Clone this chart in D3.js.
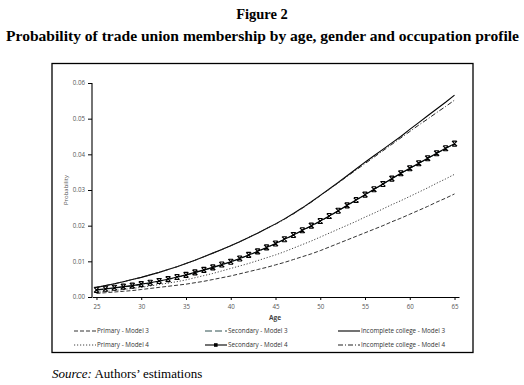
<!DOCTYPE html>
<html>
<head>
<meta charset="utf-8">
<script src="https://cdnjs.cloudflare.com/ajax/libs/d3/7.8.5/d3.min.js"></script>
<style>
  body { margin: 0; background: #fff; }
  svg { display: block; }
</style>
</head>
<body>
<div id="chart-area"></div>
<script>
// ages 25..65
var ages = d3.range(25, 66);
var yTicks = [0, 0.01, 0.02, 0.03, 0.04, 0.05, 0.06];
var xTicks = [25, 30, 35, 40, 45, 50, 55, 60, 65];

var primaryM3 = [.0010,.0012,.0014,.0016,.0018,.0021,.0024,.0027,.0030,.0033,.0036,.0040,.0044,.0049,.0054,.0059,.0065,.0071,.0077,.0083,.0090,.0097,.0105,.0113,.0121,.0130,.0140,.0150,.0160,.0170,.0180,.0190,.0200,.0211,.0221,.0232,.0243,.0254,.0266,.0277,.0289];
var secondaryM3 = [.0019,.0022,.0025,.0028,.0031,.0035,.0039,.0044,.0049,.0055,.0061,.0068,.0075,.0082,.0090,.0098,.0107,.0117,.0127,.0138,.0149,.0161,.0173,.0186,.0199,.0212,.0226,.0241,.0256,.0271,.0286,.0301,.0316,.0331,.0346,.0360,.0374,.0388,.0402,.0416,.0429];
var collegeM3 = [.0027,.0032,.0037,.0043,.0049,.0055,.0062,.0069,.0077,.0085,.0094,.0103,.0113,.0123,.0133,.0144,.0155,.0167,.0179,.0192,.0205,.0219,.0234,.0250,.0267,.0285,.0303,.0321,.0340,.0359,.0378,.0396,.0414,.0432,.0450,.0470,.0489,.0508,.0527,.0546,.0566];
var primaryM4 = [.0013,.0015,.0018,.0021,.0024,.0027,.0031,.0035,.0039,.0043,.0048,.0054,.0060,.0066,.0073,.0080,.0087,.0094,.0102,.0110,.0118,.0127,.0137,.0147,.0157,.0168,.0179,.0190,.0201,.0212,.0224,.0235,.0247,.0259,.0270,.0282,.0294,.0306,.0319,.0331,.0344];
var secondaryM4 = [.0020,.0023,.0026,.0029,.0032,.0036,.0040,.0045,.0050,.0056,.0062,.0069,.0076,.0083,.0091,.0099,.0108,.0118,.0128,.0139,.0150,.0162,.0174,.0187,.0200,.0213,.0227,.0242,.0257,.0272,.0287,.0302,.0317,.0332,.0347,.0361,.0375,.0389,.0403,.0417,.0430];
var collegeM4 = [.0027,.0032,.0037,.0043,.0049,.0055,.0062,.0069,.0077,.0085,.0094,.0103,.0113,.0123,.0133,.0144,.0155,.0167,.0179,.0192,.0204,.0218,.0233,.0249,.0266,.0284,.0302,.0320,.0338,.0356,.0374,.0392,.0410,.0428,.0446,.0464,.0482,.0499,.0517,.0534,.0552];

var series = [
  { name: "Primary - Model 3", values: primaryM3, color: "#333", dash: "4,2", width: 1 },
  { name: "Secondary - Model 3", values: secondaryM3, color: "#2f5050", dash: "7,3", width: 1 },
  { name: "Incomplete college - Model 3", values: collegeM3, color: "#000", dash: null, width: 1.1 },
  { name: "Primary - Model 4", values: primaryM4, color: "#444", dash: "1.2,1.8", width: 1 },
  { name: "Secondary - Model 4", values: secondaryM4, color: "#000", dash: null, width: 1.1, marker: true },
  { name: "Incomplete college - Model 4", values: collegeM4, color: "#222", dash: "5,2,1,2", width: 1 }
];

var svg = d3.select("#chart-area")
  .append("svg")
  .attr("width", 524)
  .attr("height", 385);

svg.append("text")
  .attr("x", 262)
  .attr("y", 19)
  .attr("text-anchor", "middle")
  .attr("font-family", "Liberation Serif, serif")
  .attr("font-weight", "bold")
  .attr("font-size", "14.5px")
  .text("Figure 2");

svg.append("text")
  .attr("x", 6)
  .attr("y", 41)
  .attr("font-family", "Liberation Serif, serif")
  .attr("font-weight", "bold")
  .attr("font-size", "14px")
  .attr("textLength", 513)
  .attr("lengthAdjust", "spacingAndGlyphs")
  .text("Probability of  trade union membership by age, gender and occupation profile");

// chart frame
svg.append("rect")
  .attr("x", 52)
  .attr("y", 63.5)
  .attr("width", 421)
  .attr("height", 289)
  .attr("fill", "none")
  .attr("stroke", "#000")
  .attr("stroke-width", 1.3);

var x = d3.scaleLinear().domain([24.5, 65.5]).range([92, 459]);
var y = d3.scaleLinear().domain([0, 0.06]).range([297, 83]);

var font = "Open Sans, sans-serif";

var yAxisCall = d3.axisLeft(y)
  .tickValues(yTicks)
  .tickSize(4)
  .tickFormat(d3.format(".2f"));
var yAxis = svg.append("g")
  .attr("transform", "translate(92,0)")
  .call(yAxisCall);

var xAxisCall = d3.axisBottom(x)
  .tickValues(xTicks)
  .tickSize(3)
  .tickSizeOuter(0);
var xAxis = svg.append("g")
  .attr("transform", "translate(0,297)")
  .call(xAxisCall);

[xAxis, yAxis].forEach(function (a) {
  a.select(".domain").attr("stroke", "#000").attr("stroke-width", 1.1);
  a.selectAll(".tick line").attr("stroke", "#000");
  a.selectAll(".tick text")
    .attr("font-family", font)
    .attr("font-size", "6.2px")
    .attr("fill", "#555");
});
yAxis.select(".domain").attr("d", "M0,83V297");
xAxis.selectAll(".tick text").attr("dy", "0.9em");

svg.append("text")
  .attr("x", 275)
  .attr("y", 320)
  .attr("text-anchor", "middle")
  .attr("font-family", font)
  .attr("font-weight", "bold")
  .attr("font-size", "6.5px")
  .attr("fill", "#444")
  .text("Age");

svg.append("text")
  .attr("transform", "translate(68,190) rotate(-90)")
  .attr("text-anchor", "middle")
  .attr("font-family", font)
  .attr("font-size", "6px")
  .attr("fill", "#555")
  .text("Probability");

var line = d3.line()
  .x(function (d, i) { return x(ages[i]); })
  .y(function (d) { return y(d); });

var markerPath = "M-2.5,-2.5L2.5,2.5M-2.5,2.5L2.5,-2.5M-2.2,-2.5H2.2M-2.2,2.5H2.2";

var lines = svg.append("g");
series.forEach(function (s) {
  lines.append("path")
    .datum(s.values)
    .attr("d", line)
    .attr("fill", "none")
    .attr("stroke", s.color)
    .attr("stroke-width", s.width)
    .attr("stroke-dasharray", s.dash);
  if (s.marker) {
    lines.selectAll(null)
      .data(s.values)
      .enter()
      .append("path")
      .attr("transform", function (d, i) { return "translate(" + x(ages[i]) + "," + y(d) + ")"; })
      .attr("d", markerPath)
      .attr("stroke", "#000")
      .attr("stroke-width", 1.1)
      .attr("fill", "none");
  }
});

// legend
var legendX = [74, 205, 338];
var legendY = [331, 345];
var legend = svg.append("g");
series.forEach(function (s, i) {
  var lx = legendX[i % 3];
  var ly = legendY[Math.floor(i / 3)];
  legend.append("line")
    .attr("x1", lx).attr("x2", lx + 22)
    .attr("y1", ly).attr("y2", ly)
    .attr("stroke", s.color)
    .attr("stroke-width", s.width)
    .attr("stroke-dasharray", s.dash);
  if (s.marker) {
    legend.append("rect")
      .attr("x", lx + 9).attr("y", ly - 1.8)
      .attr("width", 3.6).attr("height", 3.6)
      .attr("fill", "#000");
  }
  legend.append("text")
    .attr("x", lx + 23)
    .attr("y", ly + 2)
    .attr("font-family", font)
    .attr("font-size", "6.3px")
    .attr("fill", "#333")
    .text(s.name);
});

var src = svg.append("text")
  .attr("x", 52)
  .attr("y", 378)
  .attr("font-family", "Liberation Serif, serif")
  .attr("font-size", "13px");
src.append("tspan").attr("font-style", "italic").text("Source:");
src.append("tspan").text(" Authors\u2019 estimations");
</script>
</body>
</html>
